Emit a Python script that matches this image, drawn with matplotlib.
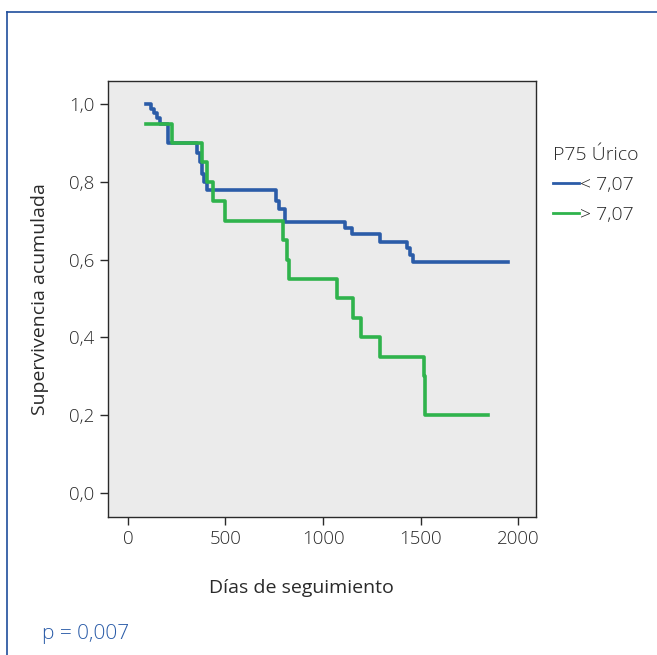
import matplotlib
matplotlib.use("Agg")
import matplotlib.pyplot as plt
from matplotlib.lines import Line2D

plt.rcParams['font.family'] = ['Open Sans', 'DejaVu Sans']
plt.rcParams['font.weight'] = 'light'

# Curvas de Kaplan-Meier
dias_bajo = [92, 118, 133, 149, 165, 205, 354, 368, 380, 392, 405, 759, 772, 805, 1113, 1149, 1292, 1431, 1446, 1462, 1949]
surv_bajo = [1.0, 0.988, 0.976, 0.964, 0.95, 0.90, 0.875, 0.85, 0.82, 0.80, 0.78, 0.75, 0.73, 0.697, 0.68, 0.665, 0.645, 0.63, 0.612, 0.593, 0.593]

dias_alto = [92, 225, 380, 405, 435, 500, 795, 815, 826, 1072, 1154, 1195, 1292, 1518, 1525, 1846]
surv_alto = [0.95, 0.90, 0.85, 0.80, 0.75, 0.70, 0.65, 0.60, 0.55, 0.50, 0.45, 0.40, 0.35, 0.30, 0.20, 0.20]

grupos = ["< 7,07", "> 7,07"]
xticks = [0, 500, 1000, 1500, 2000]
yticks = [0.0, 0.2, 0.4, 0.6, 0.8, 1.0]
ylabels = ["0,0", "0,2", "0,4", "0,6", "0,8", "1,0"]

azul = "#2b5ca8"
verde = "#2fb34c"
gris = "#2a2a2a"

fig = plt.figure(figsize=(6.57, 6.55), dpi=100)
ax = fig.add_axes([0.164, 0.211, 0.652, 0.665])
ax.set_facecolor("#ebebeb")

ax.step(dias_bajo, surv_bajo, where="post", color=azul, lw=2.6)
ax.step(dias_alto, surv_alto, where="post", color=verde, lw=2.6)

ax.set_xlim(-103, 2092)
ax.set_ylim(-0.062, 1.059)
ax.set_xticks(xticks)
ax.set_yticks(yticks)
ax.set_yticklabels(ylabels)
ax.tick_params(labelsize=13.5, length=6, width=1, colors=gris, labelcolor=gris)
for s in ax.spines.values():
    s.set_color(gris)
    s.set_linewidth(1)

ax.set_xlabel("Días de seguimiento", fontsize=14, color=gris)
ax.xaxis.set_label_coords(0.453, -0.142)
ax.set_ylabel("Supervivencia acumulada", fontsize=14, color=gris)
ax.yaxis.set_label_coords(-0.136, 0.5)

handles = [Line2D([], [], color=azul, lw=2), Line2D([], [], color=verde, lw=2)]
leg = ax.legend(handles, grupos, title="P75 Úrico", loc="upper left",
                bbox_to_anchor=(1.022, 0.868), frameon=False, fontsize=14,
                title_fontsize=14, handlelength=1.3, handletextpad=0.05,
                labelspacing=0.62, alignment="left", borderaxespad=0)
leg._legend_box.sep = 8
for t in leg.get_texts():
    t.set_color(gris)
leg.get_title().set_color(gris)

# Marco azul de la figura
fig.add_artist(Line2D([0.011, 1.0], [0.982, 0.982], color="#1f4e9c", lw=1.2, transform=fig.transFigure))
fig.add_artist(Line2D([0.011, 0.011], [0.0, 0.982], color="#1f4e9c", lw=1.2, transform=fig.transFigure))

fig.text(0.064, 0.024, "p = 0,007", color="#2b5ca8", fontsize=15)

fig.savefig("out.png", dpi=100)
